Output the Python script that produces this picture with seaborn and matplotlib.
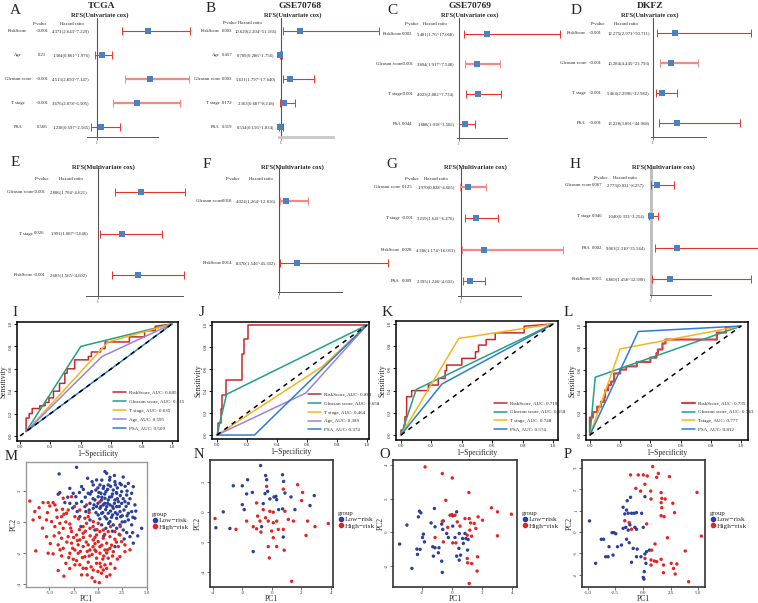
import numpy as np
import pandas as pd
import matplotlib
matplotlib.use('Agg')
import matplotlib.pyplot as plt
import matplotlib.transforms as mtransforms
from matplotlib.lines import Line2D
import seaborn as sns

W, H = 758, 603

# ---------------- Cox regression (forest plots) ----------------
a_vars = ['RiskScore', 'Age', 'Gleason score', 'T stage', 'PSA']
a_p = ['<0.001', '0.21', '<0.001', '<0.001', '0.566']
a_hr = ['4.371', '1.304', '4.513', '3.676', '1.238']
a_lo = ['2.643', '0.861', '2.850', '2.078', '0.597']
a_hi = ['7.229', '1.976', '7.147', '6.505', '2.565']

b_vars = ['RiskScore', 'Age', 'Gleason score', 'T stage', 'PSA']
b_p = ['0.003', '0.457', '0.003', '0.172', '0.319']
b_hr = ['10.620', '0.709', '5.631', '2.363', '0.534']
b_lo = ['2.204', '0.286', '1.797', '0.687', '0.156']
b_hi = ['51.166', '1.756', '17.640', '8.118', '1.834']

c_vars = ['RiskScore', 'Gleason score', 'T stage', 'PSA']
c_p = ['0.003', '<0.001', '<0.001', '0.044']
c_hr = ['5.481', '3.804', '4.023', '1.888']
c_lo = ['1.76', '1.917', '2.082', '1.018']
c_hi = ['17.068', '7.548', '7.734', '3.502']

d_vars = ['RiskScore', 'Gleason score', 'T stage', 'PSA']
d_p = ['<0.001', '<0.001', '<0.001', '<0.001']
d_hr = ['12.275', '10.284', '5.464', '13.228']
d_lo = ['2.971', '4.445', '2.2996', '3.891']
d_hi = ['50.711', '23.793', '12.982', '44.968']

e_vars = ['Gleason score', 'T stage', 'RiskScore']
e_p = ['<0.001', '0.026', '<0.001']
e_hr = ['2.806', '1.991', '2.683']
e_lo = ['1.704', '1.087', '1.565']
e_hi = ['4.621', '3.646', '4.602']

f_vars = ['Gleason score', 'RiskScore']
f_p = ['0.018', '0.014']
f_hr = ['4.024', '8.370']
f_lo = ['1.264', '1.546']
f_hi = ['12.816', '45.302']

g_vars = ['Gleason score', 'T stage', 'RiskScore', 'PSA']
g_p = ['0.125', '<0.001', '0.028', '0.009']
g_hr = ['1.970', '3.259', '4.338', '2.395']
g_lo = ['0.828', '1.641', '1.174', '1.246']
g_hi = ['4.685', '6.476', '16.051', '4.601']

h_vars = ['Gleason score', 'T stage', 'PSA', 'RiskScore']
h_p = ['0.067', '0.946', '0.002', '0.015']
h_hr = ['2.773', '1.040', '9.063', '6.869']
h_lo = ['0.931', '0.333', '2.310', '1.458']
h_hi = ['8.257', '3.254', '35.564', '32.399']

# ---------------- ROC curves ----------------
i_risk_fpr = [0.04, 0.04, 0.06, 0.06, 0.08, 0.08, 0.13, 0.13, 0.165, 0.165, 0.19, 0.19, 0.22, 0.22,
              0.26, 0.26, 0.295, 0.295, 0.31, 0.31, 0.36, 0.36, 0.45, 0.45, 0.47, 0.47, 0.53, 0.53,
              0.56, 0.56, 0.72, 0.72, 0.82, 0.82, 0.89, 0.89, 1.0]
i_risk_tpr = [0.04, 0.16, 0.16, 0.2, 0.2, 0.245, 0.245, 0.27, 0.27, 0.3, 0.3, 0.34, 0.34, 0.4,
              0.4, 0.47, 0.47, 0.56, 0.56, 0.6, 0.6, 0.68, 0.68, 0.71, 0.71, 0.75, 0.75, 0.78,
              0.78, 0.84, 0.84, 0.885, 0.885, 0.94, 0.94, 0.98, 1.0]
i_gleason = ([0.04, 0.40, 1.0], [0.04, 0.80, 1.0])
i_tstage = ([0.04, 0.58, 1.0], [0.04, 0.84, 1.0])
i_age = ([0.04, 0.54, 1.0], [0.04, 0.71, 1.0])
i_psa = ([0.04, 1.0], [0.04, 1.0])
i_auc = ['0.685', '0.715', '0.635', '0.595', '0.500']

j_risk_fpr = [0, 0.01, 0.01, 0.025, 0.025, 0.035, 0.035, 0.06, 0.06, 0.17, 0.17, 0.18, 0.18, 0.21, 0.21, 1.0]
j_risk_tpr = [0, 0, 0.11, 0.11, 0.24, 0.24, 0.36, 0.36, 0.5, 0.5, 0.74, 0.74, 0.87, 0.87, 1.0, 1.0]
j_gleason = ([0, 0.064, 1.0], [0, 0.37, 1.0])
j_tstage = ([0, 0.70, 1.0], [0, 0.62, 1.0])
j_age = ([0, 0.59, 1.0], [0, 0.38, 1.0])
j_psa = ([0, 0.25, 1.0], [0, 0.0, 1.0])
j_auc = ['0.881', '0.658', '0.464', '0.389', '0.374']

k_risk_fpr = [0, 0, 0.02, 0.02, 0.026, 0.026, 0.037, 0.037, 0.07, 0.07, 0.18, 0.18, 0.245, 0.245,
              0.29, 0.29, 0.3, 0.3, 0.4, 0.4, 0.49, 0.49, 0.51, 0.51, 0.56, 0.56, 0.62, 0.62,
              0.81, 0.81, 1.0]
k_risk_tpr = [0, 0.045, 0.045, 0.09, 0.09, 0.165, 0.165, 0.345, 0.345, 0.4, 0.4, 0.45, 0.45, 0.51,
              0.51, 0.58, 0.58, 0.63, 0.63, 0.69, 0.69, 0.75, 0.75, 0.81, 0.81, 0.86, 0.86, 0.92,
              0.92, 0.98, 1.0]
k_gleason = ([0, 0.10, 1.0], [0, 0.41, 1.0])
k_tstage = ([0, 0.38, 1.0], [0, 0.87, 1.0])
k_psa = ([0, 0.27, 1.0], [0, 0.46, 1.0])
k_auc = ['0.719', '0.658', '0.748', '0.574']

l_risk_fpr = [0, 0, 0.02, 0.02, 0.048, 0.048, 0.073, 0.073, 0.095, 0.095, 0.1, 0.1, 0.12, 0.12,
              0.14, 0.14, 0.16, 0.16, 0.2, 0.2, 0.24, 0.24, 0.31, 0.31, 0.4, 0.4, 0.44, 0.44,
              0.45, 0.45, 0.48, 0.48, 0.5, 0.5, 0.84, 0.84, 0.9, 0.9, 0.97, 1.0]
l_risk_tpr = [0, 0.16, 0.16, 0.21, 0.21, 0.26, 0.26, 0.305, 0.305, 0.35, 0.35, 0.41, 0.41, 0.46,
              0.46, 0.49, 0.49, 0.565, 0.565, 0.6, 0.6, 0.63, 0.63, 0.67, 0.67, 0.71, 0.71, 0.75,
              0.75, 0.785, 0.785, 0.84, 0.84, 0.876, 0.876, 0.94, 0.94, 0.99, 0.99, 1.0]
l_gleason = ([0, 0.035, 1.0], [0, 0.53, 1.0])
l_tstage = ([0, 0.20, 1.0], [0, 0.79, 1.0])
l_psa = ([0, 0.32, 1.0], [0, 0.95, 1.0])
l_auc = ['0.735', '0.743', '0.777', '0.812']

# ---------------- PCA scores ----------------
m_low = np.array([
    (-2.2, 3.53), (-3.99, 3.1), (0.72, 3.25), (0.9, 3.14), (-1.06, 2.82), (-0.14, 2.71), (1.24, 2.88),
    (1.75, 2.6), (2.27, 2.49), (3.13, 2.49), (3.64, 2.28), (-2.89, 2.17), (-4.09, 1.79), (-3.92, 1.89),
    (-1.68, 2.28), (-0.48, 2.39), (0.21, 2.39), (0.55, 2.17), (1.06, 2.39), (-1.0, 1.85), (-0.65, 1.96),
    (-0.21, 2.06), (0.31, 1.85), (0.82, 1.96), (1.58, 2.06), (1.93, 1.85), (2.44, 1.96), (2.96, 1.74),
    (3.47, 1.85), (-2.54, 1.85), (-2.27, 1.63), (-3.4, 1.25), (-2.89, 1.2), (-2.2, 1.2), (-1.68, 1.31),
    (-1.34, 0.99), (-0.82, 1.2), (-0.31, 1.42), (0.03, 1.63), (0.38, 1.42), (0.72, 1.53), (1.06, 1.42),
    (1.41, 1.63), (1.75, 1.42), (2.1, 1.31), (2.44, 1.2), (2.78, 1.31), (3.13, 1.2), (3.81, 1.1),
    (-1.24, 0.67), (-0.9, 0.77), (-0.48, 0.88), (-0.14, 0.99), (0.21, 0.88), (0.55, 1.1), (0.9, 0.99),
    (1.24, 1.1), (1.58, 0.88), (1.93, 0.99), (2.27, 0.67), (2.68, 0.77), (3.13, 0.56), (3.47, 0.67),
    (3.81, 0.24), (3.47, -0.19), (3.13, 0.13), (2.78, 0.02), (2.34, 0.34), (1.93, 0.24), (1.51, 0.45),
    (1.06, 0.56), (0.72, 0.34), (0.38, 0.56), (0.03, 0.45), (1.24, 0.02), (1.58, -0.19), (1.93, -0.41),
    (2.27, -0.19), (2.61, -0.52), (2.96, -0.69), (3.57, -0.69), (4.5, -0.41), (3.64, -1.37), (3.3, -0.95),
    (1.75, -1.59), (0.82, -0.41), (0.38, -0.19), (-0.82, 0.13), (-1.86, 0.34), (-2.13, 0.67), (-1.75, -0.3),
    (-0.31, -0.52), (0.5, 0.6), (1.0, 1.2), (1.5, 1.0), (0.7, 1.8), (1.2, 1.6), (2.0, 1.5), (0.0, 1.2),
    (-0.5, 1.5), (2.5, 0.4), (2.9, 1.0), (1.8, 0.6), (1.3, 2.3), (0.4, 2.7), (-0.6, 2.6), (2.0, 2.2),
    (3.0, 2.0), (-1.3, 1.6), (-1.9, 1.9), (0.2, 0.2), (1.1, -0.1), (2.2, -0.8), (2.7, -1.1), (1.5, -0.6),
    (0.6, -0.9), (3.9, 0.7), (4.1, -0.9), (-2.6, 0.9), (-3.1, 1.6), (1.7, 3.0), (2.6, 2.9),
    (0.3, 1.0), (0.8, 0.8), (1.3, 0.7), (1.7, 1.2), (2.2, 1.0), (2.6, 1.5), (0.1, 1.9), (0.6, 2.3),
    (1.0, 2.1), (1.5, 1.8), (2.3, 1.7), (-0.2, 0.6), (0.9, 0.2), (1.4, 0.3), (2.0, 0.5), (2.5, 0.0),
    (3.0, 0.4), (0.4, 1.6), (-0.8, 1.8), (-1.5, 2.1), (1.8, 2.4), (2.8, 2.3), (3.3, 1.5), (3.6, 0.3),
    (0.0, 2.2), (1.2, 2.7), (-0.4, 1.1), (0.7, 1.2), (1.9, 1.9), (2.4, 2.4)])
m_high = np.array([
    (-7.01, 1.35), (-6.49, 0.67), (-6.05, 0.92), (-6.67, 0.13), (-6.39, -1.87), (-5.12, 1.25), (-4.61, 1.25),
    (-4.95, 1.03), (-3.57, 1.53), (-3.64, 0.82), (-3.06, 0.77), (-4.26, 0.77), (-5.29, 0.13), (-4.77, 0.02),
    (-3.92, -0.09), (-4.43, -0.3), (-3.57, -0.41), (-2.89, -0.13), (-5.29, -0.95), (-3.74, -1.05),
    (-3.06, -0.95), (-4.09, -1.48), (-3.57, -1.7), (-4.61, -2.06), (-5.12, -2.02), (-3.74, -2.19),
    (-3.3, -2.67), (-4.09, -3.14), (-2.54, -2.41), (-2.37, -1.81), (-2.71, -1.37), (-1.86, -1.16),
    (-2.2, -0.84), (-1.52, -0.73), (-1.17, -0.09), (-0.82, -0.41), (-1.52, -2.99), (-1.1, -3.42),
    (-1.86, -2.77), (-1.34, -2.24), (-0.82, -1.81), (-1.0, -1.48), (-0.48, -1.16), (-0.14, -0.84),
    (0.21, -0.62), (0.03, -1.27), (0.55, -1.05), (0.9, -1.37), (1.24, -0.95), (-0.31, -1.81), (0.21, -2.02),
    (0.72, -1.81), (1.24, -1.7), (1.58, -1.92), (2.1, -1.59), (2.44, -1.27), (2.78, -1.48), (1.75, -1.12),
    (2.27, -0.84), (-0.14, -2.67), (0.21, -2.67), (0.72, -2.77), (-0.14, -2.34), (1.06, -2.34),
    (-0.31, -3.85), (0.14, -3.92), (0.9, -3.53), (1.24, -3.42), (0.38, -3.31), (0.55, -3.1), (1.75, -2.99),
    (-0.48, -3.1), (-2.03, -2.02), (-2.89, -2.02), (-1.0, 0.34), (-0.48, 0.02), (-1.86, 0.77), (-1.34, 0.24),
    (-2.37, 0.34), (-2.71, -0.62), (-1.52, -0.3), (0.03, -0.09), (0.55, -0.52), (1.06, -0.62), (1.75, -0.62),
    (-1.17, 1.1), (0.21, 1.31), (-2.71, 1.63), (-4.43, 1.1), (-5.64, 1.25), (-3.23, 0.56), (-3.74, 0.34),
    (-2.03, -1.48), (-1.52, -1.59), (-2.37, -2.77), (2.78, -1.92), (2.27, -2.24), (-1.68, -3.42),
    (-0.8, -0.9), (-0.3, -1.4), (0.4, -1.5), (-1.2, -1.3), (-0.6, -2.1), (0.9, -2.0), (-2.5, -1.0),
    (-3.0, -2.3), (-1.0, -2.6), (0.0, -3.2), (-0.9, 0.6), (-2.0, 0.2), (-3.3, 0.0), (-4.0, -0.7),
    (-4.9, -1.4), (-5.7, -0.4), (1.3, -2.7), (0.5, -2.4), (-0.2, -1.9), (1.9, -1.3), (-1.8, -1.9),
    (-2.9, -3.0), (-3.5, -3.5), (2.3, -0.3), (3.3, -1.8), (1.3, -0.3), (-0.5, -0.3), (-6.0, 0.3),
    (-5.2, 0.6), (-2.4, 1.0),
    (-1.5, -1.0), (-1.1, -1.9), (-0.5, -1.6), (0.2, -1.6), (0.6, -2.2), (-0.9, -2.2), (-2.1, -1.2),
    (-2.6, -1.7), (-1.3, -0.6), (-0.3, -1.0), (0.7, -0.8), (1.4, -1.5), (-1.9, -0.5), (-3.2, -1.3),
    (-3.9, -1.8), (-4.5, -0.9), (-2.2, -2.5), (-0.7, -2.9), (0.3, -2.9), (-1.6, -2.3), (-0.1, -0.5),
    (1.0, -1.8), (-2.8, -0.4), (-3.5, 0.5), (-4.2, 0.3), (-1.2, -3.0), (0.9, -3.0), (-0.6, -3.6),
    (2.0, -2.4), (1.5, -2.2)])

n_low = np.array([
    (-0.77, 3.08), (-1.65, 2.14), (-0.43, 2.42), (-0.36, 2.14), (0.72, 2.47), (0.79, 2.03), (-2.62, 1.74),
    (-2.01, 1.74), (-1.33, 1.3), (-0.47, 1.22), (-1.72, 1.2), (-0.29, 1.37), (0.14, 1.0), (0.27, 1.04),
    (-0.14, 0.87), (0.32, 0.82), (0.88, 1.26), (1.29, 1.0), (2.87, 1.09), (2.58, 0.43), (1.56, 0.16),
    (0.72, 0.21), (0.45, 0.16), (-2.01, 0.49), (-1.88, 0.16), (-3.3, 0.01), (-2.85, -1.09), (-3.8, -1.04),
    (-1.27, -2.62), (0.77, -1.66), (-0.59, 0.56), (-0.7, -0.97)])
n_high = np.array([
    (-0.36, 1.7), (0.77, 1.52), (1.74, 1.81), (2.08, 1.3), (2.01, 0.76), (-1.04, 0.6), (-0.59, 0.16),
    (-0.14, 0.05), (0.09, -0.01), (0.88, 0.05), (1.11, -0.49), (1.45, -0.6), (2.42, -0.6), (-1.72, -0.6),
    (-0.81, -0.6), (-1.27, -0.97), (-1.04, -1.11), (-0.25, -0.6), (0.09, -0.71), (0.32, -0.6), (0.43, -1.15),
    (0.77, -1.15), (-0.02, -1.26), (-0.75, -1.33), (-2.44, -1.15), (-3.86, -0.43), (3.82, -0.76),
    (2.92, -0.97), (2.31, -1.55), (0.09, -1.7), (-0.25, -2.29), (0.32, -2.29), (0.83, -2.53), (-0.18, -3.04),
    (1.33, -4.59), (-0.97, -0.27), (-0.43, -0.38)])

o_low = np.array([
    (-2.98, 0.42), (-3.46, -0.71), (-2.65, -2.16), (-2.15, 1.25), (-2.06, 1.15), (-2.22, 0.91), (-1.16, 1.41),
    (-1.38, 0.55), (-1.12, 0.32), (-1.89, -0.12), (-1.95, -0.32), (-1.82, -0.58), (-2.32, -1.01),
    (-2.11, -1.03), (-2.28, -1.33), (-1.27, -0.87), (-1.12, -0.93), (-0.86, -0.93), (-1.23, -1.43),
    (-0.9, -1.23), (-0.68, -1.73), (-0.64, -2.4), (-0.68, 0.48), (-0.57, 0.67), (-0.61, 0.16), (-0.35, -0.08),
    (0.05, 0.97), (0.05, 0.36), (0.2, -0.32), (0.31, 1.21), (0.48, -0.08), (0.7, -0.38), (0.75, -0.67),
    (0.46, -0.97), (1.03, -1.07), (0.31, -1.43), (0.57, -1.37), (0.48, -1.67), (0.86, -0.08), (0.92, -0.38),
    (1.07, -0.44), (-0.24, -0.32)])
o_high = np.array([
    (-1.78, 3.89), (-0.64, 3.49), (0.02, 3.23), (-0.41, 1.9), (1.12, 2.36), (-1.12, -0.32), (-0.64, 0.65),
    (-0.28, 0.28), (-0.13, 1.01), (0.0, 1.05), (0.2, 1.01), (0.35, 0.61), (0.53, 0.36), (0.05, -0.64),
    (0.26, -0.64), (0.86, 0.81), (1.14, 0.81), (1.23, 0.55), (1.18, 0.12), (1.01, -0.18), (1.3, -0.24),
    (1.47, 0.52), (1.58, 0.22), (1.73, 0.91), (2.02, 0.71), (1.69, -1.47), (1.66, -2.32), (1.01, -1.57),
    (1.03, -1.83), (1.3, -1.87), (1.14, -3.06), (2.61, 1.45), (3.01, 1.21), (3.93, 1.07), (3.01, -0.22),
    (-0.57, -0.58)])

p_low = np.array([
    (-4.82, 0.52), (-4.27, -1.47), (-3.76, -0.34), (-3.55, -0.34), (-3.36, -1.16), (-3.15, -1.16),
    (-3.06, -0.69), (-2.79, -0.03), (-2.61, -0.03), (-2.45, -0.08), (-2.7, -1.08), (-2.3, -0.69),
    (-1.94, -0.61), (-1.79, 1.16), (-1.64, 0.85), (-1.42, 1.47), (-1.12, 1.63), (-1.48, 1.03), (-1.33, 0.88),
    (-1.03, 0.88), (-0.79, 0.88), (-0.58, 0.91), (-0.12, 0.88), (-1.55, 0.22), (-1.33, 0.09), (-1.79, 0.17),
    (-1.18, 0.34), (-0.73, 0.22), (-0.58, 0.13), (0.03, 0.22), (-1.48, -0.34), (-1.24, -0.5), (-0.88, -0.77),
    (-0.52, -0.8), (-0.18, -1.16), (-0.58, -1.16), (-1.03, -1.42), (0.18, 1.66), (0.18, -1.03), (0.33, -0.92),
    (0.58, -0.85), (0.27, -1.47), (0.12, -1.86), (0.03, -2.13), (0.09, -2.21)])
p_high = np.array([
    (-1.12, 2.68), (-0.42, 2.68), (0.03, 2.68), (0.39, 2.63), (0.88, 3.07), (1.24, 2.57), (1.39, 2.75),
    (2.39, 2.6), (0.18, 2.24), (-0.64, 2.05), (-0.21, 1.92), (0.7, 1.92), (1.64, 1.85), (0.73, 1.55),
    (1.7, 1.58), (2.0, 1.55), (1.64, 1.38), (1.7, 1.14), (2.7, 1.35), (2.85, 0.91), (1.64, 0.77), (1.91, 0.72),
    (4.88, 1.86), (5.27, -0.19), (-1.64, 0.53), (-1.24, 0.44), (-1.03, 0.13), (0.33, 0.38), (2.21, -0.27),
    (1.09, -0.56), (0.79, -0.85), (0.18, -1.24), (0.73, -1.31), (1.03, -1.36), (1.64, -1.28), (1.85, -1.55),
    (0.73, -1.55), (1.24, -1.39), (1.85, -1.91), (2.55, -1.47), (2.76, -1.71), (3.06, -1.5), (2.91, -1.97),
    (3.82, -0.89), (4.12, -2.33)])

# ---------------- styling ----------------
sns.set_theme(style='white')
plt.rcParams['font.family'] = ['Liberation Serif', 'DejaVu Serif']
plt.rcParams['axes.unicode_minus'] = False

RED = '#e8332b'
LIGHT_RED = '#f08a84'
BOX_BLUE = '#4a80c4'
ROC_COLORS = {'RiskScore': '#c8282d', 'Gleason score': '#21a186', 'T stage': '#f6b51a',
              'Tstage': '#f6b51a', 'Age': '#9c84d6', 'PSA': '#2d7dd2'}
LOW_COL = '#2b3f9c'
HIGH_COL = '#e8231f'
ROW_FS = 3.4

fig = plt.figure(figsize=(W / 100, H / 100), dpi=100)


def rect(l, t, r, b):
    return [l / W, 1 - b / H, (r - l) / W, (b - t) / H]


def ftext(x, y, s, **kw):
    fig.text(x / W, 1 - y / H, s, **kw)


def forest(vars_, p, hr, lo, hi, lay):
    L, R = lay['ax_lo'], lay['right']
    ax = fig.add_axes(rect(L, lay['top'], R, lay['bottom']))
    x1, s = lay['x1'], lay['s']
    ax.set_xlim(1 + (L - x1) / s, 1 + (R - x1) / s)
    y0, d = lay['y0'], lay['d']
    ax.set_ylim((lay['bottom'] - y0) / d, (lay['top'] - y0) / d)
    hrv = np.array(hr, float)
    lov = np.array(lo, float)
    hiv = np.array(hi, float)
    rows = np.arange(len(vars_))
    for i in rows:
        light = i in lay.get('light', [])
        ax.errorbar(hrv[i], i, xerr=[[hrv[i] - lov[i]], [hiv[i] - hrv[i]]], fmt='none',
                    ecolor=LIGHT_RED if light else RED, elinewidth=1.6 if light else 0.8,
                    capsize=3, capthick=0.7, clip_on=False, zorder=2)
    ax.scatter(hrv, rows, marker='s', s=13, color=BOX_BLUE, zorder=3, clip_on=False, linewidths=0)
    ax.axvline(1, color=lay.get('vcol', '#555555'), lw=lay.get('vlw', 0.8), zorder=1)
    for sp in ['top', 'right', 'left']:
        ax.spines[sp].set_visible(False)
    ax.spines['bottom'].set_bounds(1 + (L - x1) / s, 1 + (lay['ax_hi'] - x1) / s)
    ax.spines['bottom'].set_color(lay.get('bcol', '#555555'))
    ax.spines['bottom'].set_linewidth(lay.get('blw', 0.7))
    ax.set_xticks([1])
    ax.set_xticklabels(['1'], fontsize=2.5)
    ax.set_yticks([])
    ax.tick_params(axis='x', length=2.5, width=0.5, pad=0.3, bottom=True, color='#555555')
    ax.patch.set_alpha(0)
    trans = mtransforms.blended_transform_factory(fig.transFigure, ax.transData)
    for i, v in enumerate(vars_):
        ax.text(lay['lab_x'] / W, i, v, transform=trans, ha=lay.get('lab_ha', 'right'),
                va='center', fontsize=ROW_FS)
        ax.text(lay['p_x'] / W, i, p[i], transform=trans, ha='center', va='center', fontsize=ROW_FS)
        ax.text(lay['hr_x'] / W, i, f'{hr[i]}({lo[i]}~{hi[i]})', transform=trans,
                ha='center', va='center', fontsize=ROW_FS)
    ftext(lay['ph_x'], lay['head_y'], 'P-value', ha='center', va='center', fontsize=ROW_FS)
    ftext(lay['hh_x'], lay['head_y'], 'Hazard ratio', ha='center', va='center', fontsize=ROW_FS)
    ftext(lay['sub_x'], lay['sub_y'], lay['sub'], ha='center', va='center', fontsize=4.7,
          fontweight='bold')
    if lay.get('title'):
        ftext(lay['title_x'], 6, lay['title'], ha='center', va='center', fontsize=6.8,
              fontweight='bold')
    ftext(lay['let_x'], lay['let_y'], lay['letter'], ha='center', va='center', fontsize=11)


uni = 'RFS(Univariate cox)'
multi = 'RFS(Multivariate cox)'
forest(a_vars, a_p, a_hr, a_lo, a_hi,
       dict(ax_lo=87, ax_hi=158, right=190, x1=97, s=15, top=18, bottom=137, y0=31, d=24,
            lab_x=18, lab_ha='center', p_x=42, hr_x=71, ph_x=40, hh_x=72, head_y=24,
            sub=uni, sub_x=100, sub_y=15, title='TCGA', title_x=102, letter='A', let_x=15, let_y=10,
            light=[2, 3]))
forest(b_vars, b_p, b_hr, b_lo, b_hi,
       dict(ax_lo=279, ax_hi=333, right=380, x1=281, s=1.96, top=18, bottom=137, y0=31, d=24,
            lab_x=220, p_x=227, hr_x=256, ph_x=230, hh_x=250, head_y=23,
            sub=uni, sub_x=293, sub_y=15, title='GSE70768', title_x=300, letter='B', let_x=211,
            let_y=9, bcol='#c8c8c8', blw=2.0))
forest(c_vars, c_p, c_hr, c_lo, c_hi,
       dict(ax_lo=457, ax_hi=507, right=568, x1=459, s=6.3, top=18, bottom=138, y0=34, d=30,
            lab_x=402, p_x=407.5, hr_x=436, ph_x=412, hh_x=435, head_y=24,
            sub=uni, sub_x=470, sub_y=15, title='GSE70769', title_x=470, letter='C', let_x=392,
            let_y=10, light=[1]))
forest(d_vars, d_p, d_hr, d_lo, d_hi,
       dict(ax_lo=651, ax_hi=706, right=758, x1=653, s=1.97, top=18, bottom=137, y0=33, d=30,
            lab_x=586, p_x=595.5, hr_x=628.5, ph_x=598, hh_x=626, head_y=24,
            sub=uni, sub_x=650, sub_y=15, title='DKFZ', title_x=650, letter='D', let_x=576,
            let_y=10, light=[1]))
forest(e_vars, e_p, e_hr, e_lo, e_hi,
       dict(ax_lo=86, ax_hi=183, right=190, x1=98, s=24, top=168, bottom=296, y0=192, d=41.5,
            lab_x=33, p_x=39, hr_x=69, ph_x=42, hh_x=71, head_y=179,
            sub=multi, sub_x=103, sub_y=167, letter='E', let_x=15, let_y=163))
forest(f_vars, f_p, f_hr, f_lo, f_hi,
       dict(ax_lo=278, ax_hi=342, right=380, x1=279, s=2.45, top=168, bottom=292, y0=201, d=62,
            lab_x=222, p_x=227.5, hr_x=256, ph_x=233, hh_x=261, head_y=179,
            sub=multi, sub_x=292, sub_y=167, letter='F', let_x=207, let_y=165, light=[0]))
forest(g_vars, g_p, g_hr, g_lo, g_hi,
       dict(ax_lo=458, ax_hi=521, right=568, x1=461, s=6.8, top=168, bottom=296, y0=187, d=31.3,
            lab_x=400, p_x=407, hr_x=436, ph_x=412, hh_x=436, head_y=179,
            sub=multi, sub_x=475, sub_y=167, letter='G', let_x=392, let_y=165, light=[0, 2]))
forest(h_vars, h_p, h_hr, h_lo, h_hi,
       dict(ax_lo=650, ax_hi=711, right=758, x1=651, s=3.17, top=168, bottom=295, y0=185, d=31.3,
            lab_x=591, p_x=597, hr_x=626, ph_x=601, hh_x=625, head_y=178,
            sub=multi, sub_x=663, sub_y=167, letter='H', let_x=575, let_y=165,
            vcol='#bbbbbb', vlw=2.0))


# ---------------- ROC panels ----------------
def roc(curves, aucs, box, xlim, ylim, letter, let_xy, leg_anchor, risk_lw=1.1, risk_col=None):
    ax = fig.add_axes(rect(*box))
    names = list(curves.keys())
    for name, auc in zip(names, aucs):
        fx, ty = curves[name]
        col = ROC_COLORS[name]
        lw = 1.1
        if name == 'RiskScore':
            lw = risk_lw
            col = risk_col or col
        sns.lineplot(x=fx, y=ty, ax=ax, color=col, lw=lw, estimator=None, sort=False,
                     label=f'{name}, AUC: {auc}')
    ax.plot([0, 1], [0, 1], color='black', lw=1.1, ls=(0, (3, 3)), zorder=5)
    ax.set_xlim(*xlim)
    ax.set_ylim(*ylim)
    ticks = [0, 0.2, 0.4, 0.6, 0.8, 1.0]
    ax.set_xticks(ticks)
    ax.set_xticklabels([f'{t:.1f}' for t in ticks], fontsize=3.6)
    ax.set_yticks(ticks)
    ax.set_yticklabels([f'{t:.1f}' for t in ticks], fontsize=3.6, rotation=90, va='center')
    ax.tick_params(length=2, width=0.6, pad=1, bottom=True, left=True, color='black')
    for sp in ax.spines.values():
        sp.set_color('black')
        sp.set_linewidth(1.1)
    ax.set_xlabel('1\u2212Specificity', fontsize=5.5, labelpad=0.5)
    ax.set_ylabel('Sensitivity', fontsize=5.5, labelpad=1)
    ax.legend(loc='lower left', bbox_to_anchor=leg_anchor, frameon=False, fontsize=3.6,
              handlelength=2.6, handletextpad=0.6, labelspacing=0.85, borderaxespad=0)
    ftext(let_xy[0], let_xy[1], letter, ha='center', va='center', fontsize=11)


roc({'RiskScore': (i_risk_fpr, i_risk_tpr), 'Gleason score': i_gleason, 'T stage': i_tstage,
     'Age': i_age, 'PSA': i_psa}, i_auc,
    (17, 322, 178, 441), (-0.02, 1.04), (-0.045, 1.018), 'I', (15, 312), (0.585, 0.07))
roc({'RiskScore': (j_risk_fpr, j_risk_tpr), 'Gleason score': j_gleason, 'T stage': j_tstage,
     'Age': j_age, 'PSA': j_psa}, j_auc,
    (212, 322, 369, 439), (-0.033, 1.013), (-0.036, 1.027), 'J', (202, 312), (0.6, 0.04))
roc({'RiskScore': (k_risk_fpr, k_risk_tpr), 'Gleason score': k_gleason, 'T stage': k_tstage,
     'PSA': k_psa}, k_auc,
    (396, 321, 558, 440), (-0.033, 1.033), (-0.045, 1.027), 'K', (387, 312), (0.59, 0.05))
roc({'RiskScore': (l_risk_fpr, l_risk_tpr), 'Gleason score': l_gleason, 'Tstage': l_tstage,
     'PSA': l_psa}, l_auc,
    (586, 322, 748, 440), (-0.026, 1.046), (-0.046, 1.037), 'L', (568, 313), (0.58, 0.05),
    risk_lw=1.6, risk_col='#d04448')


# ---------------- PCA panels ----------------
def pca(low, high, box, xlim, ylim, xticks, xfmt, yticks, letter, let_xy, edge, elw):
    ax = fig.add_axes(rect(*box))
    df = pd.DataFrame({
        'PC1': np.concatenate([low[:, 0], high[:, 0]]),
        'PC2': np.concatenate([low[:, 1], high[:, 1]]),
        'group': ['Low\u2212risk'] * len(low) + ['High\u2212risk'] * len(high)})
    sns.scatterplot(data=df, x='PC1', y='PC2', hue='group', ax=ax, s=6, linewidth=0,
                    palette={'Low\u2212risk': LOW_COL, 'High\u2212risk': HIGH_COL}, legend=False)
    ax.set_xlim(*xlim)
    ax.set_ylim(*ylim)
    ax.set_xticks(xticks)
    ax.set_xticklabels([xfmt.format(t) for t in xticks], fontsize=3.6, color='#333333')
    ax.set_yticks(yticks)
    ax.set_yticklabels([str(t) for t in yticks], fontsize=3.6, color='#333333', rotation=90,
                       va='center')
    ax.tick_params(length=2, width=0.5, pad=0.8, bottom=True, left=True, color='#333333')
    for sp in ax.spines.values():
        sp.set_color(edge)
        sp.set_linewidth(elw)
    ax.set_xlabel('PC1', fontsize=5.5, labelpad=0)
    ax.set_ylabel('PC2', fontsize=5.5, labelpad=0)
    handles = [Line2D([], [], marker='o', ls='', color=LOW_COL, markersize=3.0, label='Low\u2212risk'),
               Line2D([], [], marker='o', ls='', color=HIGH_COL, markersize=3.0, label='High\u2212risk')]
    leg = ax.legend(handles=handles, title='group', loc='center left', bbox_to_anchor=(1.0, 0.53),
                    frameon=False, fontsize=5.2, title_fontsize=4.8, handletextpad=0.05,
                    labelspacing=0.05, borderaxespad=0.3, handlelength=0.9)
    leg._legend_box.align = 'left'
    ftext(let_xy[0], let_xy[1], letter, ha='center', va='center', fontsize=10.5)


pca(m_low, m_high, (26, 462, 147, 587), (-7.4, 5.05), (-4.2, 3.87), [-5, -2.5, 0, 2.5, 5], '{:.1f}',
    [-4, -2, 0, 2], 'M', (11, 456), '#9a9a9a', 1.0)
pca(n_low, n_high, (210, 460, 333, 587), (-4.2, 4.14), (-4.97, 3.45), [-4, -2, 0, 2, 4], '{:d}',
    [-4, -2, 0, 2], 'N', (199, 455), '#333333', 1.2)
pca(o_low, o_high, (393, 460, 517, 587), (-3.9, 4.3), (-3.27, 4.3), [-2, 0, 2, 4], '{:d}',
    [-2, 0, 2, 4], 'O', (385, 455), '#333333', 1.2)
pca(p_low, p_high, (582, 460, 705, 587), (-5.5, 5.6), (-2.58, 3.38), [-5, -2.5, 0, 2.5, 5], '{:.1f}',
    [-2, -1, 0, 1, 2, 3], 'P', (568, 455), '#333333', 1.2)

fig.savefig('out.png', dpi=100)
